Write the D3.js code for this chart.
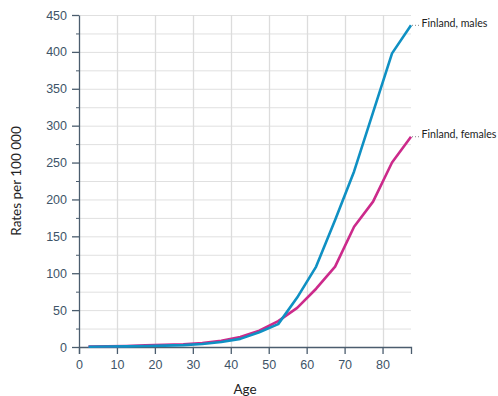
<!DOCTYPE html>
<html><head><meta charset="utf-8">
<script src="https://cdn.jsdelivr.net/npm/d3@7"></script>
<style>body{margin:0;background:#fff;}svg{display:block;font-family:Lato,"Noto Sans",sans-serif;}</style>
</head><body><svg id="c" width="498" height="396"></svg>
<script>
const ages = [2.5,7.5,12.5,17.5,22.5,27.5,32.5,37.5,42.5,47.5,52.5,57.5,62.5,67.5,72.5,77.5,82.5,87.5];
const males = [0.4,0.6,0.9,1.3,1.8,2.6,4.0,6.8,11,20,31,67,109,172,238,318,398,436];
const females = [0.5,0.8,1.3,2.2,3.0,3.8,5.2,8.5,13.5,22,35,53,79,109,163,197,250,285];
const seriesNames = ["Finland, males","Finland, females"];
const colors = ["#0f90c3","#cc2a8b"];
const xTicks = [0,10,20,30,40,50,60,70,80];
const yTicks = [0,50,100,150,200,250,300,350,400,450];
const yMinor = [25,75,125,175,225,275,325,375,425];

const svg = d3.select("#c");
const L=79,R=411,T=15,B=347;
const x = d3.scaleLinear().domain([0,87.5]).range([L,R]);
const y = d3.scaleLinear().domain([0,450]).range([B,T]);

// grid
const g = svg.append("g");
g.selectAll(".hg").data(yTicks.concat(yMinor)).join("line")
 .attr("x1",L).attr("x2",R).attr("y1",d=>y(d)+0.5).attr("y2",d=>y(d)+0.5)
 .attr("stroke","#e0e0e0").attr("stroke-width",1);
g.selectAll(".vg").data(xTicks.slice(1)).join("line")
 .attr("x1",d=>Math.round(x(d))+0.5).attr("x2",d=>Math.round(x(d))+0.5).attr("y1",T).attr("y2",B)
 .attr("stroke","#dcdcdc").attr("stroke-width",1.3);

const axisColor="#4b5d6e", tickText="#3e5468";
// y axis
const ya = svg.append("g").attr("transform",`translate(${L},0)`)
 .call(d3.axisLeft(y).tickValues(yTicks).tickSize(7).tickSizeOuter(0).tickPadding(5));
ya.selectAll("text").attr("fill",tickText).style("font-size","12.5px");
ya.selectAll("line,path").attr("stroke",axisColor).attr("stroke-width",1.3);
svg.append("g").attr("transform",`translate(${L},0)`)
 .call(d3.axisLeft(y).tickValues(yMinor).tickSize(3).tickFormat(""))
 .call(s=>s.select(".domain").remove())
 .selectAll("line").attr("stroke",axisColor);
// x axis
const xa = svg.append("g").attr("transform",`translate(0,${B})`)
 .call(d3.axisBottom(x).tickValues(xTicks).tickSize(7).tickSizeOuter(7).tickPadding(6));
xa.selectAll("text").attr("fill",tickText).style("font-size","12.5px");
xa.selectAll("line,path").attr("stroke",axisColor).attr("stroke-width",1.3);

// axis titles
svg.append("text").attr("x",(L+R)/2).attr("y",394).attr("text-anchor","middle")
 .attr("fill","#222").style("font-size","13.5px").text("Age");
svg.append("text").attr("transform",`translate(21,${(T+B)/2}) rotate(-90)`).attr("text-anchor","middle")
 .attr("fill","#222").style("font-size","13.5px").text("Rates per 100 000");

// lines
const line = d3.line().x((d,i)=>x(ages[i])).y(d=>y(d));
[females,males].forEach((s)=>{
  const idx = s===males?0:1;
  svg.append("path").datum(s).attr("d",line).attr("fill","none")
   .attr("stroke",colors[idx]).attr("stroke-width",2.6).attr("stroke-linejoin","round");
});
// labels
[males,females].forEach((s,i)=>{
  const ex = x(ages[ages.length-1]), ey = y(s[s.length-1]);
  svg.append("line").attr("x1",ex+1).attr("x2",ex+10).attr("y1",ey).attr("y2",ey)
   .attr("stroke","#888").attr("stroke-width",1).attr("stroke-dasharray","1,2");
  svg.append("text").attr("x",ex+10.5).attr("y",ey-1).attr("dominant-baseline","middle")
   .attr("fill","#222").style("font-size","10.6px").text(seriesNames[i]);
});
</script></body></html>
